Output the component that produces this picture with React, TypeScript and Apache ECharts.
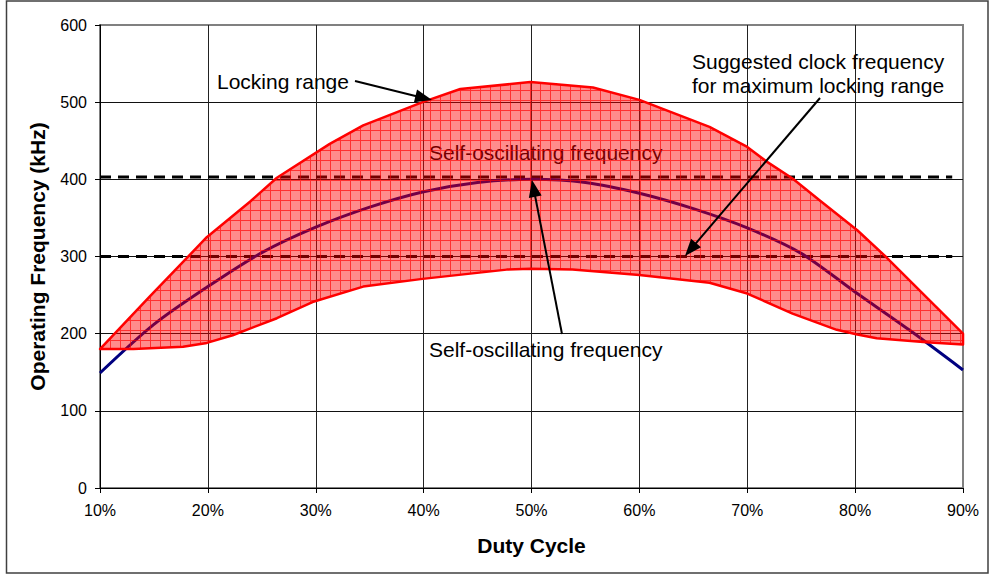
import React, { useEffect, useRef } from "react";
import * as echarts from "echarts";

// Duty cycle (%) axis ticks and frequency (kHz) axis
const dutyMin = 10;
const dutyMax = 90;
const dutyStep = 10;
const freqMin = 0;
const freqMax = 600;
const freqStep = 100;

// Locking range: upper boundary
const upperDuty = [10, 14.6, 19.9, 23.9, 26.4, 31.3, 34.4, 39.9, 43.4, 49.9, 55.7, 60, 66.5, 70, 71.8, 74.2, 76.7, 80.2, 82.9, 90];
const upperFreq = [180, 248, 325, 371, 402, 446, 470, 500, 517, 526, 519, 503, 468, 442, 423, 401, 373, 334, 299, 200];

// Locking range: lower boundary
const lowerDuty = [10, 13.1, 17.7, 19.9, 22.3, 26.4, 29.7, 34.4, 39.9, 47.7, 49.9, 53.8, 60, 66.5, 70, 74.2, 78.3, 80.2, 82, 86.6, 90];
const lowerFreq = [180, 180, 183, 188, 198, 220, 241, 261, 271, 283, 284, 283, 276, 266, 252, 226, 205, 199, 194, 189, 186];

// Self-oscillating frequency
const selfOscDuty = [10, 15, 20, 25, 30, 35, 40, 45, 50, 55, 60, 65, 70, 75, 80, 85, 90];
const selfOscFreq = [149, 212, 261, 305, 338, 364, 384, 396, 400, 396, 382, 362, 337, 304, 254, 205, 153];

// Suggested clock frequency levels (dashed)
const clockLevels = [403, 300];
const clockSpan = [10, 89];

const FONT = "'Liberation Sans', Arial, sans-serif";

function makePattern(): HTMLCanvasElement {
  const c = document.createElement("canvas");
  c.width = 10;
  c.height = 10;
  const ctx = c.getContext("2d")!;
  ctx.fillStyle = "rgba(255,0,0,0.45)";
  ctx.fillRect(0, 0, 10, 10);
  ctx.fillStyle = "rgba(255,0,0,0.65)";
  ctx.fillRect(0, 0, 10, 1);
  ctx.fillRect(0, 1, 1, 9);
  return c;
}

function arrow(x1: number, y1: number, x2: number, y2: number): any[] {
  const dx = x2 - x1;
  const dy = y2 - y1;
  const len = Math.sqrt(dx * dx + dy * dy);
  const ux = dx / len;
  const uy = dy / len;
  const hl = 17;
  const hw = 6.5;
  const bx = x2 - ux * hl;
  const by = y2 - uy * hl;
  return [
    {
      type: "line",
      z: 100,
      shape: { x1, y1, x2: bx + ux * 2, y2: by + uy * 2 },
      style: { stroke: "#000", lineWidth: 2 },
    },
    {
      type: "polygon",
      z: 100,
      shape: {
        points: [
          [x2, y2],
          [bx - uy * hw, by + ux * hw],
          [bx + uy * hw, by - ux * hw],
        ],
      },
      style: { fill: "#000" },
    },
  ];
}

export default function App() {
  const ref = useRef<HTMLDivElement>(null);

  useEffect(() => {
    if (!ref.current) return;
    const chart = echarts.init(ref.current, null, { renderer: "svg" });
    const pattern = makePattern();

    const dashedSeries = clockLevels.map((lvl) => ({
      type: "line",
      data: clockSpan.map((d) => [d, lvl]),
      symbol: "none",
      silent: true,
      z: 2,
      lineStyle: { color: "#000", width: 3, type: [11, 7] },
    }));

    const option: any = {
      animation: false,
      backgroundColor: "#fff",
      textStyle: { fontFamily: FONT },
      grid: {
        left: 100,
        right: 27,
        top: 25,
        bottom: 87,
        show: true,
        borderColor: "#808080",
        borderWidth: 2,
        backgroundColor: "transparent",
      },
      xAxis: {
        type: "value",
        min: dutyMin,
        max: dutyMax,
        interval: dutyStep,
        name: "Duty Cycle",
        nameLocation: "middle",
        nameGap: 47,
        nameTextStyle: { fontSize: 21, fontWeight: "bold", color: "#000", fontFamily: FONT },
        axisLine: { lineStyle: { color: "#000", width: 1 } },
        axisTick: { show: true, length: 5, lineStyle: { color: "#000" } },
        axisLabel: {
          formatter: "{value}%",
          fontSize: 16,
          color: "#000",
          margin: 14,
          fontFamily: FONT,
        },
        splitLine: {
          show: true,
          lineStyle: {
            color: ["#000", "#222", "#222", "#222", "#222", "#222", "#222", "#222", "#808080"],
            width: 1,
          },
        },
      },
      yAxis: {
        type: "value",
        min: freqMin,
        max: freqMax,
        interval: freqStep,
        name: "Operating Frequency (kHz)",
        nameLocation: "middle",
        nameGap: 52,
        nameRotate: 90,
        nameTextStyle: { fontSize: 21, fontWeight: "bold", color: "#000", fontFamily: FONT },
        axisLine: { show: true, lineStyle: { color: "#000", width: 1 } },
        axisTick: { show: true, length: 5, lineStyle: { color: "#000" } },
        axisLabel: { fontSize: 16, color: "#000", margin: 13, fontFamily: FONT },
        splitLine: {
          show: true,
          lineStyle: {
            color: ["#000", "#111", "#111", "#111", "#111", "#111", "#808080"],
            width: 1,
          },
        },
      },
      series: [
        ...dashedSeries,
        {
          type: "line",
          name: "Self-oscillating frequency",
          data: selfOscDuty.map((d, i) => [d, selfOscFreq[i]]),
          symbol: "none",
          smooth: 0.3,
          z: 2,
          lineStyle: { color: "#000080", width: 3 },
        },
        {
          type: "custom",
          name: "Locking range",
          z: 3,
          data: [[50, 400]],
          renderItem: (params: any, api: any) => {
            const up = upperDuty.map((d, i) => api.coord([d, upperFreq[i]]));
            const low = lowerDuty.map((d, i) => api.coord([d, lowerFreq[i]])).reverse();
            return {
              type: "polygon",
              shape: { points: [...up, ...low] },
              style: {
                fill: { image: pattern, repeat: "repeat" },
                stroke: "#ff0000",
                lineWidth: 2.5,
                lineJoin: "round",
              },
            };
          },
        },
      ],
      graphic: [
        {
          type: "rect",
          z: 100,
          shape: { x: 6.5, y: 1, width: 981.5, height: 572 },
          style: { fill: "none", stroke: "#404040", lineWidth: 1.5 },
        },
        {
          type: "text",
          z: 50,
          x: 217,
          y: 81,
          style: {
            text: "Locking range",
            fontSize: 21,
            fontFamily: FONT,
            fill: "#000",
            textVerticalAlign: "middle",
          },
        },
        {
          type: "text",
          z: 1,
          x: 429,
          y: 152,
          style: {
            text: "Self-oscillating frequency",
            fontSize: 21,
            fontFamily: FONT,
            fill: "#000",
            textVerticalAlign: "middle",
          },
        },
        {
          type: "text",
          z: 50,
          x: 429,
          y: 349,
          style: {
            text: "Self-oscillating frequency",
            fontSize: 21,
            fontFamily: FONT,
            fill: "#000",
            textVerticalAlign: "middle",
          },
        },
        {
          type: "text",
          z: 50,
          x: 692,
          y: 61,
          style: {
            text: "Suggested clock frequency",
            fontSize: 21,
            fontFamily: FONT,
            fill: "#000",
            textVerticalAlign: "middle",
          },
        },
        {
          type: "text",
          z: 50,
          x: 692,
          y: 85,
          style: {
            text: "for maximum locking range",
            fontSize: 21,
            fontFamily: FONT,
            fill: "#000",
            textVerticalAlign: "middle",
          },
        },
        ...arrow(355, 81, 432, 100),
        ...arrow(562, 334, 532, 180),
        ...arrow(820, 98, 685, 256),
      ],
    };

    chart.setOption(option);
    return () => chart.dispose();
  }, []);

  return (
    <div
      ref={ref}
      style={{ position: "fixed", left: 0, top: 0, width: 990, height: 575, background: "#fff" }}
    />
  );
}
